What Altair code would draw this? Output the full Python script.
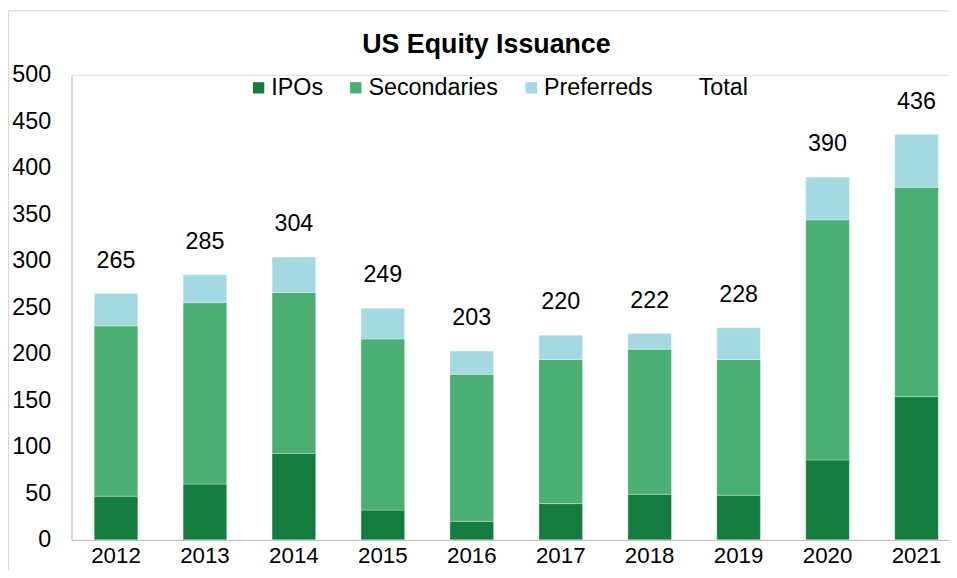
import altair as alt
import pandas as pd

# ---- data ----
years = ["2012", "2013", "2014", "2015", "2016", "2017", "2018", "2019", "2020", "2021"]
ipos = [47, 60, 93, 32, 20, 39, 49, 48, 86, 154]
secondaries = [183, 195, 173, 184, 158, 155, 156, 146, 258, 225]
preferreds = [35, 30, 38, 33, 25, 26, 17, 34, 46, 57]
totals = [265, 285, 304, 249, 203, 220, 222, 228, 390, 436]

series = ["IPOs", "Secondaries", "Preferreds"]
legend_entries = ["IPOs", "Secondaries", "Preferreds", "Total"]
colors = ["#147C3F", "#4BAE72", "#A5D9E1", "transparent"]
y_ticks = [0, 50, 100, 150, 200, 250, 300, 350, 400, 450, 500]

rows = []
for i, yr in enumerate(years):
    for k, (name, vals) in enumerate(zip(series, [ipos, secondaries, preferreds])):
        rows.append({"year": yr, "series": name, "value": vals[i], "order": k})
df = pd.DataFrame(rows)
tot = pd.DataFrame({"year": years, "total": totals})

FONT = "Liberation Sans"
W, H = 885, 469

x_enc = alt.X(
    "year:N",
    sort=years,
    title=None,
    scale=alt.Scale(paddingInner=0.51, paddingOuter=0.188, align=0.68),
    axis=alt.Axis(
        labelAngle=0, labelFontSize=22.5, labelPadding=5, ticks=False,
        domainColor="#BFBFBF", domainWidth=1, labelColor="black", labelFont=FONT,
    ),
)

y_scale = alt.Scale(domain=[0, 500], nice=False)

bars = alt.Chart(df).mark_bar(stroke="white", strokeWidth=0.6, strokeOpacity=0.5).encode(
    x=x_enc,
    y=alt.Y(
        "value:Q",
        stack="zero",
        scale=y_scale,
        title=None,
        axis=alt.Axis(
            values=y_ticks, grid=False, ticks=False, labelFontSize=23.5,
            labelPadding=21, domainColor="#BFBFBF", labelColor="black",
            labelFont=FONT,
        ),
    ),
    color=alt.Color(
        "series:N",
        scale=alt.Scale(domain=legend_entries, range=colors),
        legend=alt.Legend(
            title=None, orient="none", direction="horizontal",
            legendX=177, legendY=1, symbolType="square", symbolSize=130,
            symbolStrokeWidth=0, labelFontSize=23.5, labelFont=FONT,
            labelColor="black", labelOffset=1, columnPadding=21, padding=0,
            labelLimit=300,
        ),
    ),
    order=alt.Order("order:Q"),
)

labels = alt.Chart(tot).mark_text(
    baseline="alphabetic", dy=-26, fontSize=23.5, font=FONT, color="black"
).encode(
    x=alt.X("year:N", sort=years),
    y=alt.Y("total:Q", scale=y_scale),
    text=alt.Text("total:Q"),
)

border = alt.Chart(pd.DataFrame({"k": [0]})).mark_rect(
    filled=False, stroke="#D9D9D9", strokeWidth=1.2
).encode(
    x=alt.value(-63.5), x2=alt.value(W + 200),
    y=alt.value(-64.5), y2=alt.value(H + 200),
)

chart = alt.layer(border, bars, labels).properties(
    width=W,
    height=H,
    padding={"left": 64, "top": 65, "right": 0, "bottom": 28},
    autosize=alt.AutoSizeParams(type="none"),
    title=alt.TitleParams(
        "US Equity Issuance", fontSize=27, fontWeight="bold", font=FONT,
        anchor="middle", frame="group", dx=-24, dy=90, offset=20,
        baseline="alphabetic", color="black",
    ),
).configure_view(stroke=None).configure(font=FONT)

chart.save("out.html", embed_options={"renderer": "svg", "actions": False})
